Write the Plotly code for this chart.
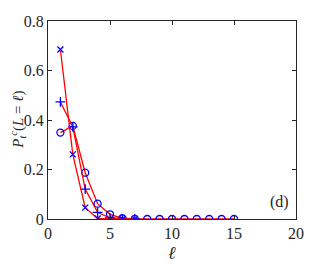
import plotly.graph_objects as go

x_circ = list(range(1, 16))
y_circ = [0.349, 0.376, 0.187, 0.062, 0.019, 0.003, 0.0005, 0, 0, 0, 0, 0, 0, 0, 0]
x_plus = list(range(1, 8))
y_plus = [0.473, 0.372, 0.121, 0.027, 0.004, 0.0005, 0]
x_cross = list(range(1, 8))
y_cross = [0.685, 0.261, 0.046, 0.002, 0.0003, 0, 0]

SERIF = "Liberation Serif, Times New Roman, serif"

fig = go.Figure()
def add(xs, ys, sym, size):
    fig.add_trace(go.Scatter(
        x=xs, y=ys, mode="lines+markers",
        line=dict(color="red", width=1.3),
        marker=dict(symbol=sym, size=size, color="blue",
                    line=dict(color="blue", width=1.3)),
        showlegend=False))

add(x_circ, y_circ, "circle-open", 7)
add(x_plus, y_plus, "cross-thin-open", 7)
add(x_cross, y_cross, "x-thin-open", 6)

font = dict(family=SERIF, size=16, color="#262626")
axis = dict(showgrid=False, zeroline=False, showline=True, linecolor="#262626",
            linewidth=1, mirror="ticks", ticks="inside", ticklen=4,
            tickcolor="#262626", tickfont=font, automargin=False)
fig.update_layout(
    width=327, height=266,
    margin=dict(l=40, r=39, t=12.5, b=55),
    plot_bgcolor="white", paper_bgcolor="white",
    font=font,
    xaxis=dict(range=[0, 20], tickvals=[0, 5, 10, 15, 20], **axis),
    yaxis=dict(range=[0, 0.8], tickvals=[0, 0.2, 0.4, 0.6, 0.8], **axis),
    annotations=[
        dict(x=18.7, y=0.07, xref="x", yref="y", text="(d)", showarrow=False,
             font=dict(family=SERIF, size=16, color="#262626")),
        dict(x=-0.122, y=0.5, xref="paper", yref="paper", xanchor="center", yanchor="middle",
             textangle=-90, showarrow=False,
             text="<i>P</i><sub><i>t</i></sub><sup><i>c</i></sup>(<i>L</i> = <i>ℓ</i>)",
             font=dict(family=SERIF, size=15, color="#262626")),
        dict(x=0.5, y=-0.17, xref="paper", yref="paper", xanchor="center", yanchor="middle",
             showarrow=False, text="<i>ℓ</i>",
             font=dict(family=SERIF, size=18, color="#262626")),
    ],
)
fig.write_html("out.html")
